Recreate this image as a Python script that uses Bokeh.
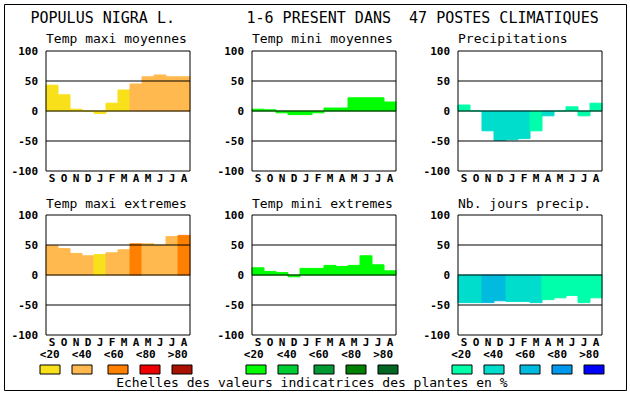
import numpy as np
from bokeh.plotting import figure
from bokeh.models import Range1d, ColumnDataSource
from bokeh.core.properties import value
from bokeh.embed import file_html
from bokeh.resources import INLINE

# ---------------- data ----------------
months = ["S", "O", "N", "D", "J", "F", "M", "A", "M", "J", "J", "A"]
y_ticks = [100, 50, 0, -50, -100]
y_tick_labels = ["100", "50", "0", "-50", "-100"]
grid_levels = [50, 0, -50]

main_title = "POPULUS NIGRA L."
sub_title = "1-6 PRESENT DANS \u00a047 POSTES CLIMATIQUES"
footer = "Echelles des valeurs indicatrices des plantes en %"

panel_titles = ["Temp maxi moyennes", "Temp mini moyennes", "Precipitations",
                "Temp maxi extremes", "Temp mini extremes", "Nb. jours precip."]

tmax_moy = [43, 27, 3, 0, -4, 13, 35, 45, 57, 60, 57, 57]
tmin_moy = [3, 2, -3, -6, -6, -3, 5, 5, 22, 22, 22, 15]
precip = [10, 0, -33, -49, -48, -46, -33, -8, 0, 7, -8, 13]
tmax_ext = [49, 44, 36, 32, 34, 37, 42, 52, 52, 50, 64, 66]
tmin_ext = [12, 6, 4, -3, 11, 11, 16, 14, 16, 32, 17, 7]
jours_prec = [-46, -46, -46, -43, -44, -44, -46, -41, -38, -34, -46, -38]

# indicator class of each month (index into the scale: <20 <40 <60 <80 >80)
cls_tmax_moy = [0, 0, 0, 0, 0, 0, 0, 1, 1, 1, 1, 1]
cls_tmin_moy = [0, 0, 0, 0, 0, 0, 0, 0, 0, 0, 0, 0]
cls_precip = [0, 0, 1, 1, 1, 1, 0, 1, 0, 0, 0, 0]
cls_tmax_ext = [1, 1, 1, 1, 0, 1, 1, 2, 1, 1, 1, 2]
cls_tmin_ext = [0, 0, 0, 0, 0, 0, 0, 0, 0, 0, 0, 0]
cls_jours = [1, 1, 2, 2, 1, 1, 1, 0, 0, 0, 0, 0]

class_labels = ["<20", "<40", "<60", "<80", ">80"]
pal_tmax = ["#f8e11a", "#ffb94f", "#ff8000", "#ee0000", "#aa1100"]
pal_tmin = ["#00ff00", "#00cc33", "#009933", "#007f00", "#006622"]
pal_prec = ["#00ffaa", "#00ddcc", "#00bbdd", "#0099ee", "#0000ff"]

# ---------------- layout (pixel coordinates of the picture) ----------------
W, H = 627, 391
FX0, FX1 = 4, 626      # frame extent in canvas pixels
FY0, FY1 = 4, 390
cols = [(45.5, 189.5), (251.5, 395.5), (457.5, 601.5)]
rows = [(50.5, 170.5), (214.5, 334.5)]
title_y = [37.5, 202.5]
MONO = value("DejaVu Sans Mono")

p = figure(width=W, height=H, x_range=Range1d(FX0, FX1), y_range=Range1d(FY1, FY0),
           min_border_left=FX0, min_border_top=FY0, min_border_right=W - FX1,
           min_border_bottom=H - FY1, x_axis_location=None, y_axis_location=None,
           toolbar_location=None, output_backend="svg", title=None,
           outline_line_color="black", outline_line_width=1,
           background_fill_color="white", border_fill_color="white")
p.grid.visible = False

# headline
p.text(x=[30], y=[17.5], text=[main_title], text_font=MONO, text_font_size="15px",
       text_align="left", text_baseline="middle", text_color="black")
p.text(x=[246], y=[17.5], text=[sub_title], text_font=MONO, text_font_size="15px",
       text_align="left", text_baseline="middle", text_color="black")

panels = [
    (tmax_moy, cls_tmax_moy, pal_tmax),
    (tmin_moy, cls_tmin_moy, pal_tmin),
    (precip, cls_precip, pal_prec),
    (tmax_ext, cls_tmax_ext, pal_tmax),
    (tmin_ext, cls_tmin_ext, pal_tmin),
    (jours_prec, cls_jours, pal_prec),
]

xs = np.arange(12) + 0.5
for i, (vals, cls, pal) in enumerate(panels):
    r, c = divmod(i, 3)
    L, R = cols[c]
    T, B = rows[r]
    kx = 12.0 / (R - L)
    ky = 200.0 / (B - T)
    xn, yn = f"px{i}", f"py{i}"
    p.extra_x_ranges[xn] = Range1d((FX0 - L) * kx, (FX1 - L) * kx)
    p.extra_y_ranges[yn] = Range1d(100 - (FY1 - T) * ky, 100 + (T - FY0) * ky)

    colors = [pal[k] for k in cls]
    src = ColumnDataSource(dict(x=xs, top=vals, color=colors))
    p.vbar(x="x", top="top", bottom=0, width=1, source=src,
           fill_color="color", line_color="color", line_width=1,
           x_range_name=xn, y_range_name=yn)
    # grid lines at +-50 and 0
    p.segment(x0=[0] * 3, x1=[12] * 3, y0=grid_levels, y1=grid_levels,
              line_color="black", line_width=1, x_range_name=xn, y_range_name=yn)
    # frame
    p.quad(left=[0], right=[12], bottom=[-100], top=[100], fill_color=None,
           line_color="black", line_width=1, x_range_name=xn, y_range_name=yn)
    # y tick labels
    p.text(x=[0] * 5, y=y_ticks, text=y_tick_labels, x_offset=-8,
           text_font=MONO, text_font_size="11px", text_font_style="bold",
           text_align="right", text_baseline="middle", text_color="black",
           x_range_name=xn, y_range_name=yn)
    # month labels
    p.text(x=xs, y=[-100] * 12, text=months, y_offset=7.5,
           text_font=MONO, text_font_size="11px", text_font_style="bold",
           text_align="center", text_baseline="middle", text_color="black",
           x_range_name=xn, y_range_name=yn)
    # panel title
    p.text(x=[L], y=[title_y[r]], text=[panel_titles[i]], text_font=MONO,
           text_font_size="13px", text_align="left", text_baseline="middle",
           text_color="black")

# legend scales
label_x = [[39.3, 71.3, 103.3, 135.3, 167.3],
           [243.3, 276.3, 308.3, 340.7, 372.7],
           [450.7, 482.7, 514.7, 546.7, 578.7]]
box_x = [[39.5, 71.5, 107.5, 139.5, 171.5],
         [245.5, 277.5, 313.5, 345.5, 377.5],
         [451.5, 483.5, 519.5, 551.5, 583.5]]
for g, pal in enumerate([pal_tmax, pal_tmin, pal_prec]):
    p.text(x=label_x[g], y=[354] * 5, text=class_labels, text_font=MONO,
           text_font_size="11px", text_font_style="bold", text_align="left",
           text_baseline="middle", text_color="black")
    bx = np.array(box_x[g])
    p.quad(left=bx, right=bx + 20, top=[364.5] * 5, bottom=[373.5] * 5,
           fill_color=pal, line_color="black", line_width=1)

p.text(x=[115.7], y=[381.5], text=[footer], text_font=MONO, text_font_size="13px",
       text_align="left", text_baseline="middle", text_color="black")

open("out.html", "w").write(file_html(p, INLINE))
